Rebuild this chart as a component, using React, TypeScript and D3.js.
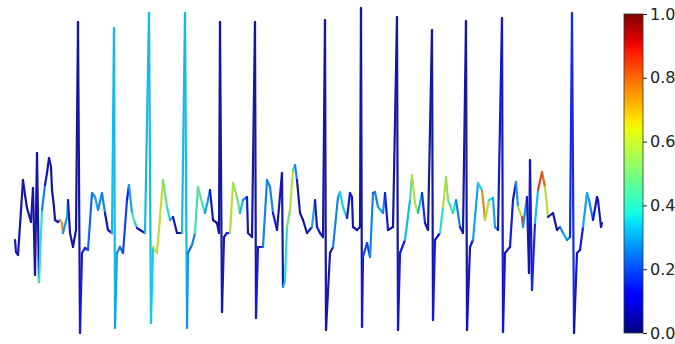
import * as d3 from "d3";
import { useEffect, useRef } from "react";

// ECG trace: sample index, amplitude, attention weight (0..1)
const sampleT = [
  0, 1, 3, 5, 8, 10, 12, 14, 16, 18,
  20, 22, 24, 27, 30, 32, 34, 36, 37, 39,
  40, 43, 45, 47, 48, 50, 52, 53, 55, 58,
  61, 63, 65, 67, 70, 73, 77, 80, 83, 87,
  90, 93, 97, 99, 100, 102, 105, 108, 112, 114,
  117, 120, 122, 125, 130, 134, 136, 138, 142, 145,
  148, 152, 155, 158, 162, 167, 170, 172, 173, 177,
  180, 183, 187, 190, 193, 195, 198, 202, 204, 205,
  207, 209, 212, 215, 218, 222, 225, 228, 232, 233,
  237, 240, 241, 243, 248, 252, 255, 258, 262, 267,
  268, 270, 272, 275, 278, 280, 282, 285, 288, 292,
  297, 300, 302, 305, 308, 310, 311, 315, 318, 323,
  325, 328, 332, 335, 337, 338, 342, 345, 346, 347,
  348, 352, 355, 358, 360, 363, 368, 370, 373, 378,
  382, 383, 385, 390, 395, 397, 400, 403, 407, 410,
  413, 417, 418, 420, 425, 428, 431, 433, 438, 441,
  445, 448, 451, 452, 455, 458, 463, 467, 470, 474,
  478, 480, 483, 487, 488, 490, 495, 498, 501, 503,
  507, 508, 512, 514, 515, 517, 520, 523, 527, 530,
  533, 538, 542, 545, 548, 552, 555, 557, 559, 562,
  565, 568, 572, 574, 578, 582, 583, 586, 587,
];

const amplitude = [
  10, -2, -5, 25, 70, 55, 42, 35, 28, 62,
  -25, 97, -32, 40, 65, 77, 92, 83, 60, 43,
  30, 28, 30, 27, 17, 25, 33, 50, 17, 3,
  20, 228, -83, -3, 2, 0, 57, 53, 40, 57,
  37, 20, 17, 222, -78, -3, 3, -3, 50, 65,
  37, 27, 22, 20, 17, 237, -73, 3, -3, 33,
  70, 43, 30, 33, 17, 17, 237, -78, -3, 5,
  17, 63, 47, 37, 50, 60, 30, 27, 17, 228,
  -62, 13, 17, 17, 67, 53, 37, 50, 53, 17,
  13, 228, -68, 3, 3, 70, 63, 37, 20, 77,
  -37, -30, 23, 40, 80, 85, 70, 37, 30, 17,
  23, 50, 23, 17, 13, 230, -80, -3, 3, 53,
  58, 43, 32, 57, 53, 23, 20, 23, 242, -77,
  -7, 7, -7, 57, 58, 43, 37, 57, 20, 23,
  233, -80, -3, 10, 50, 75, 47, 37, 57, 27,
  20, 220, -70, 10, 17, 43, 73, 50, 37, 50,
  23, 17, 229, -80, 3, 10, 67, 60, 30, 50,
  52, 23, 20, 232, -82, -3, 3, 50, 68, 43,
  33, 23, 53, -23, 90, -40, 27, 60, 78, 63,
  33, 37, 20, 23, 17, 10, 13, 237, -83, -3,
  0, 23, 57, 50, 30, 53, 50, 23, 27,
];

const attention = [
  0.05, 0.05, 0.04, 0.04, 0.04, 0.04, 0.03, 0.03, 0.03, 0.04,
  0.04, 0.04, 0.04, 0.4, 0.26, 0.06, 0.04, 0.03, 0.03, 0.03,
  0.03, 0.03, 0.1, 0.7, 0.75, 0.28, 0.28, 0.33, 0.05, 0.03,
  0.03, 0.03, 0.03, 0.12, 0.12, 0.1, 0.22, 0.26, 0.3, 0.26,
  0.26, 0.06, 0.04, 0.33, 0.33, 0.3, 0.26, 0.22, 0.18, 0.12,
  0.3, 0.42, 0.36, 0.06, 0.03, 0.33, 0.33, 0.35, 0.6, 0.6,
  0.62, 0.5, 0.38, 0.3, 0.06, 0.03, 0.33, 0.33, 0.28, 0.22,
  0.26, 0.42, 0.48, 0.42, 0.3, 0.26, 0.06, 0.03, 0.03, 0.03,
  0.03, 0.06, 0.06, 0.1, 0.6, 0.55, 0.5, 0.33, 0.26, 0.06,
  0.03, 0.03, 0.03, 0.1, 0.1, 0.26, 0.26, 0.26, 0.12, 0.04,
  0.04, 0.3, 0.38, 0.5, 0.6, 0.42, 0.26, 0.03, 0.03, 0.03,
  0.06, 0.3, 0.06, 0.08, 0.08, 0.03, 0.03, 0.06, 0.06, 0.26,
  0.3, 0.36, 0.36, 0.1, 0.1, 0.04, 0.04, 0.04, 0.03, 0.03,
  0.12, 0.18, 0.18, 0.26, 0.22, 0.26, 0.3, 0.26, 0.1, 0.04,
  0.03, 0.03, 0.1, 0.1, 0.33, 0.45, 0.6, 0.6, 0.33, 0.15,
  0.04, 0.03, 0.03, 0.1, 0.1, 0.38, 0.6, 0.55, 0.45, 0.38,
  0.26, 0.1, 0.03, 0.03, 0.06, 0.1, 0.3, 0.36, 0.75, 0.6,
  0.36, 0.3, 0.26, 0.08, 0.08, 0.08, 0.08, 0.12, 0.05, 0.28,
  0.6, 0.85, 0.28, 0.08, 0.04, 0.08, 0.15, 0.33, 0.85, 0.8,
  0.6, 0.03, 0.03, 0.03, 0.26, 0.3, 0.26, 0.15, 0.15, 0.06,
  0.06, 0.1, 0.3, 0.3, 0.26, 0.06, 0.06, 0.06, 0.06,
];

const cbarTicks = [0, 0.2, 0.4, 0.6, 0.8, 1.0];

// matplotlib "jet" as piecewise linear channels
const jetR = d3.scaleLinear().domain([0, 0.35, 0.66, 0.89, 1]).range([0, 0, 1, 1, 0.5]).clamp(true);
const jetG = d3.scaleLinear().domain([0, 0.125, 0.375, 0.64, 0.91, 1]).range([0, 0, 1, 1, 0, 0]).clamp(true);
const jetB = d3.scaleLinear().domain([0, 0.11, 0.34, 0.65, 1]).range([0.5, 1, 1, 0, 0]).clamp(true);
const jet = (v: number) => d3.rgb(jetR(v) * 255, jetG(v) * 255, jetB(v) * 255).formatHex();
// the trace looks a little washed out compared to the bar
const traceColor = (v: number) => d3.interpolateRgb(jet(v), "#5a6a9a")(0.22);

export default function App() {
  const width = 675;
  const height = 344;
  const plot = { left: 15, right: 602, top: 8, bottom: 333 };
  const bar = { x: 624, w: 19, top: 14, bottom: 333 };
  const axisRef = useRef<SVGGElement>(null);

  const x = d3.scaleLinear().domain([0, 587]).range([plot.left, plot.right]);
  const y = d3.scaleLinear().domain([-83, 242]).range([plot.bottom, plot.top]);
  const cScale = d3.scaleLinear().domain([0, 1]).range([bar.bottom, bar.top]);

  useEffect(() => {
    const g = d3.select(axisRef.current);
    g.call(
      d3.axisRight(cScale).tickValues(cbarTicks).tickFormat(d3.format(".1f")).tickSize(4).tickPadding(3)
    );
    g.select(".domain").remove();
    g.selectAll("text").attr("font-size", 16).attr("font-family", "DejaVu Sans").attr("fill", "#222");
    g.selectAll("line").attr("stroke", "#222");
  }, []);

  const segments = sampleT.slice(1).map((t, i) => ({
    x1: x(sampleT[i]),
    y1: y(amplitude[i]),
    x2: x(t),
    y2: y(amplitude[i + 1]),
    c: attention[i + 1],
  }));

  const stops = d3.range(0, 1.0001, 0.02);

  return (
    <svg width={width} height={height} style={{ position: "absolute", left: 0, top: 0, background: "#fff" }}>
      <defs>
        <linearGradient id="jet" x1="0" y1="1" x2="0" y2="0">
          {stops.map((s) => (
            <stop key={s} offset={s} stopColor={jet(s)} />
          ))}
        </linearGradient>
      </defs>
      <g>
        {segments.map((s, i) => (
          <line
            key={i}
            x1={s.x1}
            y1={s.y1}
            x2={s.x2}
            y2={s.y2}
            stroke={traceColor(s.c)}
            strokeWidth={2.2}
            strokeLinecap="round"
          />
        ))}
      </g>
      <rect x={bar.x} y={bar.top} width={bar.w} height={bar.bottom - bar.top} fill="url(#jet)" stroke="#333" strokeWidth={0.8} />
      <g ref={axisRef} transform={`translate(${bar.x + bar.w},0)`} />
    </svg>
  );
}
